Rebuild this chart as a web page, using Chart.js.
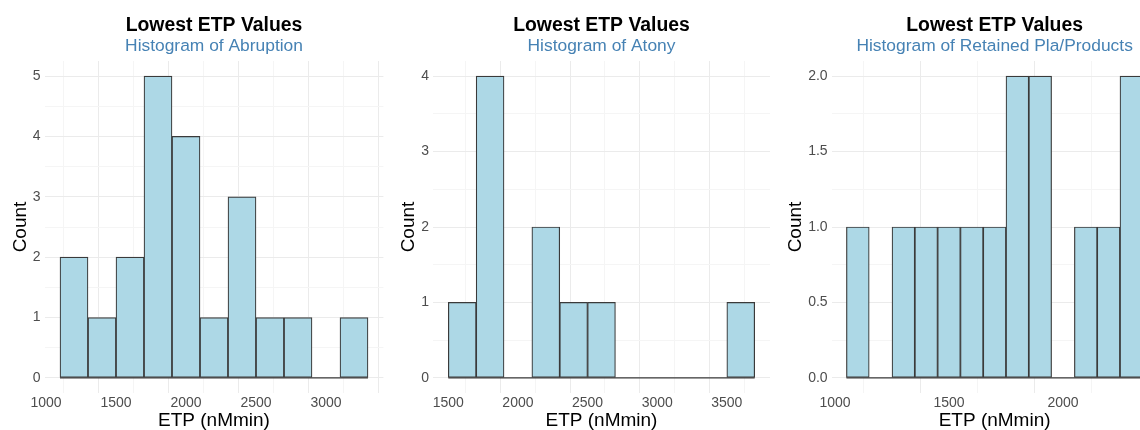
<!DOCTYPE html>
<html>
<head>
<meta charset="utf-8">
<script src="https://cdn.jsdelivr.net/npm/chart.js@4"></script>
<style>
  html, body { margin: 0; padding: 0; background: #fff; }
  body { width: 1140px; height: 430px; overflow: hidden; position: relative; }
  .panel { position: absolute; top: 0; width: 390px; height: 430px; }
</style>
</head>
<body>
<div class="panel" style="left:0px"><canvas id="abruption"></canvas></div>
<div class="panel" style="left:388px"><canvas id="atony"></canvas></div>
<div class="panel" style="left:775px"><canvas id="retained"></canvas></div>
<script>
// bin starts and counts
const abruptionBins = [1100, 1300, 1500, 1700, 1900, 2100, 2300, 2500, 2700, 2900, 3100];
const abruptionCounts = [2, 1, 2, 5, 4, 1, 3, 1, 1, 0, 1];
const abruptionWidth = 200;

const atonyBins = [1500, 1700, 1900, 2100, 2300, 2500, 2700, 2900, 3100, 3300, 3500];
const atonyCounts = [1, 4, 0, 2, 1, 1, 0, 0, 0, 0, 1];
const atonyWidth = 200;

const retainedBins = [1050, 1150, 1250, 1350, 1450, 1550, 1650, 1750, 1850, 1950, 2050, 2150, 2250];
const retainedCounts = [1, 0, 1, 1, 1, 1, 1, 2, 2, 0, 1, 1, 2];
const retainedWidth = 100;

const abruptionXTicks = [1000, 1500, 2000, 2500, 3000];
const atonyXTicks = [1500, 2000, 2500, 3000, 3500];
const retainedXTicks = [1000, 1500, 2000];
const abruptionYTicks = [0, 1, 2, 3, 4, 5];
const atonyYTicks = [0, 1, 2, 3, 4];
const retainedYTicks = [0, 0.5, 1, 1.5, 2];

const FONT = "'Liberation Sans', Arial, sans-serif";

function makeHist(id, opts) {
  const bars = opts.bins.map((b, i) => ({ x: b + opts.width / 2, y: opts.counts[i] }));
  const lastEdge = opts.bins[opts.bins.length - 1] + opts.width;
  const xStep = (opts.xTicks[1] - opts.xTicks[0]) / 2;
  const yStep = (opts.yTicks[1] - opts.yTicks[0]) / 2;
  const xAll = [];
  for (let v = opts.xTicks[0] - xStep; v <= opts.xMax; v += xStep) if (v >= opts.xMin) xAll.push(v);
  const yAll = [];
  for (let v = opts.yTicks[0]; v <= opts.yMax; v += yStep) yAll.push(v);
  const isMajor = (list, v) => list.some(t => Math.abs(t - v) < 1e-9);
  const gridColor = list => ctx => {
    if (!ctx.tick) return "#ebebeb";
    return isMajor(list, ctx.tick.value) ? "#ebebeb" : "#f5f5f5";
  };

  new Chart(document.getElementById(id), {
    type: "bar",
    data: {
      datasets: [{
        type: "line",
        data: [{ x: opts.bins[0], y: 0 }, { x: lastEdge, y: 0 }],
        borderColor: "#3a3a3a",
        borderWidth: 1.2,
        pointRadius: 0
      }, {
        data: bars,
        backgroundColor: "#ADD8E6",
        borderColor: "#3a3a3a",
        borderWidth: 1.2,
        borderSkipped: false,
        barPercentage: 1,
        categoryPercentage: 1
      }]
    },
    options: {
      responsive: false,
      animation: false,
      layout: { padding: { right: opts.padRight, left: 0, top: 0, bottom: 0 } },
      plugins: {
        legend: { display: false },
        tooltip: { enabled: false },
        title: {
          display: true,
          text: "Lowest ETP Values",
          color: "#000",
          fullSize: false,
          font: { family: FONT, size: 19.4, weight: "bold", lineHeight: 1 },
          padding: { top: 16, bottom: 1.6 }
        },
        subtitle: {
          display: true,
          text: opts.subtitle,
          color: "#4682B4",
          fullSize: false,
          font: { family: FONT, size: 17.4, lineHeight: 1 },
          padding: { top: 1, bottom: 5.6 }
        }
      },
      scales: {
        x: {
          type: "linear",
          min: opts.xMin,
          max: opts.xMax,
          offset: false,
          border: { display: false },
          grid: {
            drawTicks: false,
            color: gridColor(opts.xTicks),
            lineWidth: 1
          },
          afterBuildTicks: axis => { axis.ticks = xAll.map(v => ({ value: v })); },
          ticks: {
            autoSkip: false,
            maxRotation: 0,
            padding: 2,
            color: "#4d4d4d",
            font: { family: FONT, size: 14 },
            callback: v => isMajor(opts.xTicks, v) ? String(v) : ""
          },
          title: {
            display: true,
            text: "ETP (nMmin)",
            color: "#000",
            font: { family: FONT, size: 19, lineHeight: 1 },
            padding: { top: 0, bottom: 0 }
          },
          afterFit: s => { s.height = 37; }
        },
        y: {
          type: "linear",
          min: opts.yMin,
          max: opts.yMax,
          border: { display: false },
          grid: {
            drawTicks: false,
            color: gridColor(opts.yTicks),
            lineWidth: 1
          },
          afterBuildTicks: axis => { axis.ticks = yAll.map(v => ({ value: v })); },
          ticks: {
            autoSkip: false,
            padding: 4,
            color: "#4d4d4d",
            font: { family: FONT, size: 14 },
            callback: v => isMajor(opts.yTicks, v) ? v.toFixed(opts.yDigits) : ""
          },
          title: {
            display: true,
            text: "Count",
            color: "#000",
            font: { family: FONT, size: 19 },
            padding: { top: 9, bottom: 0 }
          },
          afterFit: s => { s.width = opts.yWidth; }
        }
      }
    }
  });
}

function sizeCanvas(id) {
  const c = document.getElementById(id);
  c.width = 390;
  c.height = 430;
  c.style.width = "390px";
  c.style.height = "430px";
}
["abruption", "atony", "retained"].forEach(sizeCanvas);

makeHist("abruption", {
  bins: abruptionBins, counts: abruptionCounts, width: abruptionWidth,
  xTicks: abruptionXTicks, yTicks: abruptionYTicks, yDigits: 0,
  xMin: 990, xMax: 3410, yMin: -0.25, yMax: 5.25,
  subtitle: "Histogram of Abruption", yWidth: 44.6, padRight: 6.6
});
makeHist("atony", {
  bins: atonyBins, counts: atonyCounts, width: atonyWidth,
  xTicks: atonyXTicks, yTicks: atonyYTicks, yDigits: 0,
  xMin: 1390, xMax: 3810, yMin: -0.2, yMax: 4.2,
  subtitle: "Histogram of Atony", yWidth: 45, padRight: 8
});
makeHist("retained", {
  bins: retainedBins, counts: retainedCounts, width: retainedWidth,
  xTicks: retainedXTicks, yTicks: retainedYTicks, yDigits: 1,
  xMin: 985, xMax: 2415, yMin: -0.1, yMax: 2.1,
  subtitle: "Histogram of Retained Pla/Products", yWidth: 56.6, padRight: 7.4
});
</script>
</body>
</html>
